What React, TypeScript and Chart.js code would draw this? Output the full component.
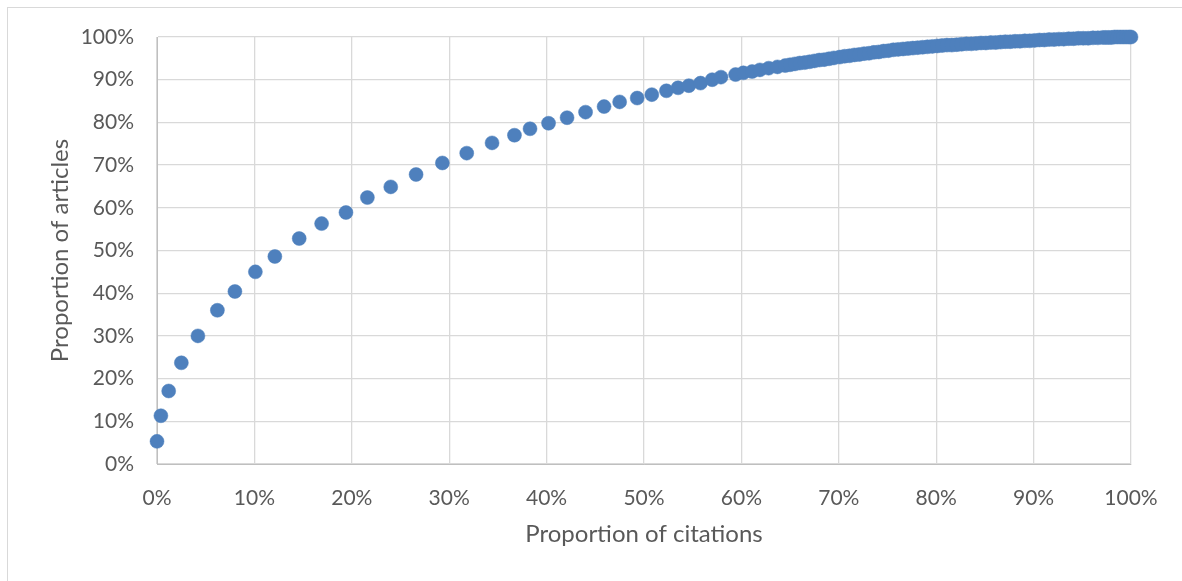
import React, { useEffect, useRef } from "react";
import { Chart, registerables } from "chart.js";

Chart.register(...registerables);

// Proportion of citations (%)
const citations: number[] = [
  0.0, 0.4, 1.2, 2.5, 4.2, 6.2, 8.0, 10.1, 12.1, 14.6,
  16.9, 19.4, 21.6, 24.0, 26.6, 29.3, 31.8, 34.4, 36.7, 38.3,
  40.2, 42.1, 44.0, 45.9, 47.5, 49.3, 50.8, 52.3, 53.5, 54.6,
  55.8, 57.0, 57.9, 59.4, 60.2, 61.1, 61.9, 62.8, 63.7, 64.5,
  65.0, 65.5, 66.0, 66.5, 67.0, 67.5, 68.0, 68.5, 69.0, 69.5,
  70.1, 70.6, 71.1, 71.6, 72.1, 72.6, 73.1, 73.6, 74.1, 74.6,
  75.1, 75.6, 76.1, 76.6, 77.1, 77.6, 78.1, 78.6, 79.1, 79.6,
  80.1, 80.6, 81.1, 81.6, 82.1, 82.6, 83.1, 83.6, 84.1, 84.6,
  85.1, 85.6, 86.1, 86.6, 87.1, 87.6, 88.1, 88.6, 89.1, 89.6,
  90.1, 90.6, 91.1, 91.6, 92.1, 92.6, 93.1, 93.6, 94.1, 94.6,
  95.1, 95.6, 96.1, 96.6, 97.1, 97.4, 97.7, 98.0, 98.3, 98.6,
  98.9, 99.2, 99.5, 99.8, 100.0,
];

// Proportion of articles (%)
const articles: number[] = [
  5.3, 11.3, 17.1, 23.7, 30.0, 36.0, 40.4, 45.0, 48.6, 52.8,
  56.3, 58.9, 62.4, 64.9, 67.8, 70.5, 72.8, 75.2, 77.0, 78.5,
  79.8, 81.1, 82.4, 83.7, 84.8, 85.7, 86.5, 87.4, 88.1, 88.6,
  89.2, 90.0, 90.6, 91.2, 91.6, 91.9, 92.3, 92.7, 93.0, 93.3,
  93.5, 93.7, 93.9, 94.0, 94.2, 94.4, 94.6, 94.7, 94.9, 95.1,
  95.3, 95.5, 95.6, 95.8, 95.9, 96.1, 96.2, 96.4, 96.5, 96.7,
  96.8, 97.0, 97.1, 97.2, 97.3, 97.4, 97.5, 97.6, 97.7, 97.8,
  97.9, 98.0, 98.1, 98.1, 98.2, 98.3, 98.4, 98.4, 98.5, 98.6,
  98.6, 98.7, 98.7, 98.8, 98.9, 98.9, 99.0, 99.0, 99.1, 99.1,
  99.2, 99.3, 99.3, 99.4, 99.4, 99.5, 99.5, 99.6, 99.6, 99.7,
  99.7, 99.7, 99.8, 99.8, 99.9, 99.9, 99.9, 99.9, 100.0, 100.0,
  100.0, 100.0, 100.0, 100.0, 100.0,
];

const xTitle = "Proportion of citations";
const yTitle = "Proportion of articles";

const FONT = "Lato, 'Open Sans', sans-serif";
const TEXT = "#595959";
const GRID = "#d9d9d9";
const DOT = "#4e80bd";

export default function App() {
  const ref = useRef<HTMLCanvasElement | null>(null);

  useEffect(() => {
    if (!ref.current) return;
    const points = citations.map((x, i) => ({ x, y: articles[i] }));
    const chart = new Chart(ref.current, {
      type: "scatter",
      data: {
        datasets: [
          {
            data: points,
            backgroundColor: DOT,
            borderColor: DOT,
            borderWidth: 0.5,
            pointRadius: 7,
            clip: false as any,
          },
        ],
      },
      options: {
        animation: false,
        responsive: false,
        maintainAspectRatio: false,
        layout: { padding: { top: 37, right: 51, bottom: 0, left: 0 } },
        plugins: { legend: { display: false }, tooltip: { enabled: false } },
        scales: {
          x: {
            type: "linear",
            min: 0,
            max: 100,
            afterFit: (s: any) => {
              s.height = 117;
            },
            border: { color: "#bfbfbf", width: 1 },
            grid: { color: GRID, lineWidth: 1.3, drawTicks: false },
            ticks: {
              stepSize: 10,
              padding: 22,
              color: TEXT,
              font: { family: FONT, size: 21 },
              maxRotation: 0,
              callback: (v: any) => `${v}%`,
            },
            title: {
              display: true,
              text: xTitle,
              color: TEXT,
              font: { family: FONT, size: 24 },
              padding: { top: 0, bottom: 32 },
            },
          },
          y: {
            type: "linear",
            min: 0,
            max: 100,
            afterFit: (s: any) => {
              s.width = 157;
            },
            border: { color: "#bfbfbf", width: 1 },
            grid: { color: GRID, lineWidth: 1.3, drawTicks: false },
            ticks: {
              stepSize: 10,
              padding: 23,
              color: TEXT,
              font: { family: FONT, size: 21 },
              callback: (v: any) => `${v}%`,
            },
            title: {
              display: true,
              text: yTitle,
              color: TEXT,
              font: { family: FONT, size: 24 },
              padding: { top: 46, bottom: 0 },
            },
          },
        },
      },
    });
    return () => chart.destroy();
  }, []);

  return (
    <div
      style={{
        position: "fixed",
        left: 0,
        top: 0,
        width: 1182,
        height: 581,
        overflow: "hidden",
        background: "#ffffff",
      }}
    >
      <div
        style={{
          position: "absolute",
          left: 7,
          top: 7,
          width: 1200,
          height: 600,
          border: "1px solid #d9d9d9",
          boxSizing: "border-box",
        }}
      />
      <canvas
        ref={ref}
        width={1182}
        height={581}
        style={{ position: "absolute", left: 0, top: 0, width: 1182, height: 581 }}
      />
    </div>
  );
}
